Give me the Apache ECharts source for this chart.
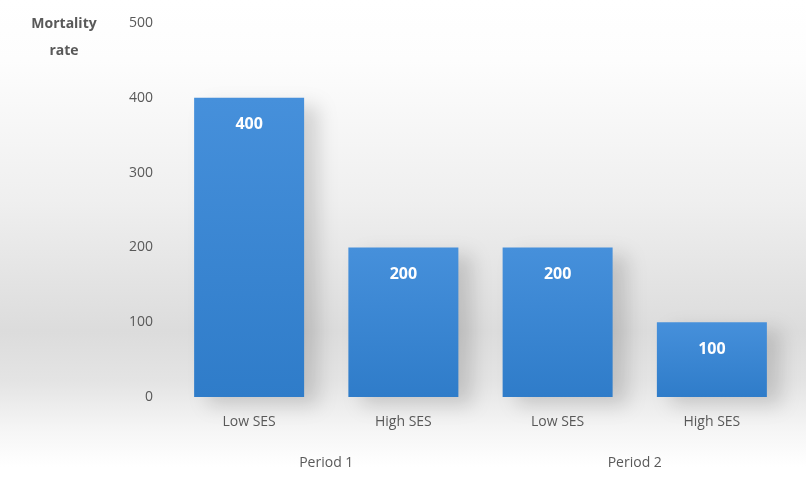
<!DOCTYPE html>
<html>
<head>
<meta charset="utf-8">
<script src="https://cdn.jsdelivr.net/npm/echarts@6/dist/echarts.min.js"></script>
<style>
  html, body { margin: 0; padding: 0; }
  #chart {
    width: 806px; height: 502px;
    background: linear-gradient(to bottom, #ffffff 0%, #fdfdfd 12%, #efefef 40%, #dcdcdc 66%, #e4e4e4 76%, #f6f6f6 86%, #ffffff 93%);
  }
</style>
</head>
<body>
<div id="chart"></div>
<script>
const groups = ['Low SES', 'High SES', 'Low SES', 'High SES']
const periods = ['Period 1', 'Period 2']
const rates = [400, 200, 200, 100]
const yTicks = [0, 100, 200, 300, 400, 500]

const font = "'Open Sans', sans-serif"
var myChart = echarts.init(document.getElementById('chart'))
var option = {
  animation: false,
  grid: { left: 172, right: 17, top: 23, bottom: 105 },
  graphic: [{
    type: 'text',
    x: 64, y: 11,
    style: {
      text: 'Mortality\nrate',
      align: 'center',
      font: "bold 14px 'Open Sans', sans-serif",
      fill: '#595959',
      lineHeight: 27
    }
  }],
  xAxis: [{
    type: 'category',
    data: groups,
    axisTick: { show: false },
    axisLine: { show: false },
    axisLabel: { color: '#595959', fontFamily: font, fontSize: 14, margin: 18 }
  }, {
    type: 'category',
    position: 'bottom',
    offset: 41,
    data: periods,
    axisTick: { show: false },
    axisLine: { show: false },
    axisLabel: { color: '#595959', fontFamily: font, fontSize: 14, margin: 18 }
  }],
  yAxis: {
    type: 'value',
    min: yTicks[0],
    max: yTicks[yTicks.length - 1],
    interval: 100,
    splitLine: { show: false },
    axisLine: { show: false },
    axisTick: { show: false },
    axisLabel: { color: '#595959', fontFamily: font, fontSize: 14, margin: 19 }
  },
  series: [{
    type: 'bar',
    xAxisIndex: 0,
    data: rates,
    barWidth: 110,
    itemStyle: {
      color: new echarts.graphic.LinearGradient(0, 0, 0, 1, [
        { offset: 0, color: '#4690db' },
        { offset: 1, color: '#2f7cc9' }
      ]),
      shadowColor: 'rgba(0,0,0,0.15)',
      shadowBlur: 18,
      shadowOffsetX: 14,
      shadowOffsetY: 8
    },
    label: {
      show: true,
      position: 'insideTop',
      distance: 19,
      color: '#ffffff',
      fontWeight: 'bold',
      fontFamily: font,
      fontSize: 16
    }
  }]
}
option && myChart.setOption(option)
</script>
</body>
</html>
